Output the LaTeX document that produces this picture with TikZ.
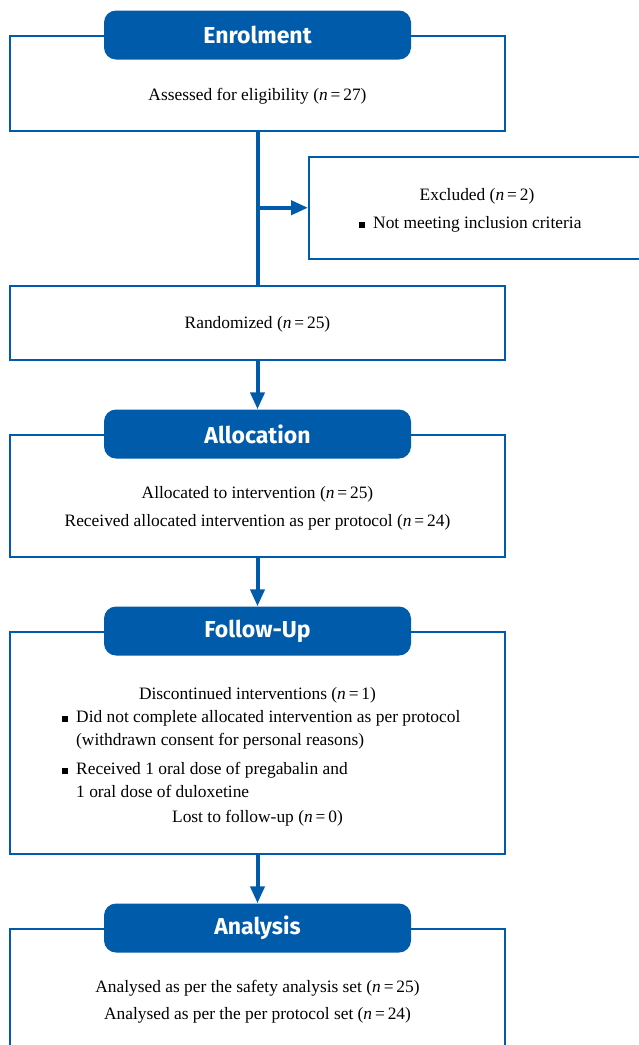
\documentclass[tikz,border=0pt]{standalone}
\usepackage{fontspec}
\setmainfont{Liberation Serif}
\newfontfamily\headfont{Fira Sans}
\usepackage{tikz}
\usetikzlibrary{arrows.meta}
\definecolor{consortblue}{HTML}{005BAA}
\newcommand{\sqbullet}{\llap{\rule[1pt]{6pt}{6pt}\hspace{8pt}}}
\newcommand{\nval}[1]{(\textit{n}\,=\,#1)}
\tikzset{
    consort/.style={
            x=1pt, y=-1pt,
            font=\fontsize{17.4}{23}\selectfont,
            stage/.style={draw=consortblue, line width=1.5pt, minimum width=495pt, anchor=north},
            header/.style={fill=consortblue, rounded corners=12pt, minimum width=307pt, minimum height=49pt,
                    text=white, font=\headfont\bfseries\fontsize{23}{23}\selectfont},
            bullets/.style={anchor=west, align=left, inner xsep=0pt},
            arrow/.style={-{Triangle[length=17pt,width=14pt]}, consortblue, line width=4pt},
            stem/.style={consortblue, line width=4pt}
        }
    }

\begin{document}
\begin{tikzpicture}[consort]
        \useasboundingbox (0,0) rectangle (638,1045);

        \node[stage, minimum height=95pt] (Enrol) at (257.5,35) {};
        \node[stage, minimum height=102pt, minimum width=340pt, anchor=north west] (Excl) at (308,156) {};
        \node[stage, minimum height=74pt] (Rand) at (257.5,285) {};
        \node[stage, minimum height=122pt] (Alloc) at (257.5,434) {};
        \node[stage, minimum height=222pt] (Follow) at (257.5,631) {};
        \node[stage, minimum height=140pt] (Anal) at (257.5,928) {};

        \node[header] (EnrolH) at (Enrol.north) {Enrolment};
        \node[header] (AllocH) at (Alloc.north) {Allocation};
        \node[header] (FollowH) at (Follow.north) {Follow-Up};
        \node[header] (AnalH) at (Anal.north) {Analysis};

        \node (assess) at (257.5,96.5) {Assessed for eligibility \nval{27}};
        \node (excl1) at (477,196.5) {Excluded \nval{2}};
        \node[bullets] (excl2) at (373,224.5) {\sqbullet Not meeting inclusion criteria};
        \node (rand1) at (257.5,324.5) {Randomized \nval{25}};
        \node (alloc1) at (257.5,494.5) {Allocated to intervention \nval{25}};
        \node (alloc2) at (257.5,522.5) {Received allocated intervention as per protocol \nval{24}};
        \node (disc) at (257.5,695.5) {Discontinued interventions \nval{1}};
        \node[bullets] (discA) at (76,730) {\sqbullet Did not complete allocated intervention as per protocol\\(withdrawn consent for personal reasons)};
        \node[bullets] (discB) at (76,780) {\sqbullet Received 1 oral dose of pregabalin and\\1 oral dose of duloxetine};
        \node (lost) at (257.5,818.5) {Lost to follow-up \nval{0}};
        \node (anal1) at (257.5,988.5) {Analysed as per the safety analysis set \nval{25}};
        \node (anal2) at (257.5,1015.5) {Analysed as per the per protocol set \nval{24}};

        \coordinate (split) at (Enrol.south |- Excl.west);
        \draw[stem] (Enrol.south) -- (Rand.north);
        \draw[arrow] (split) -- (Excl.west);
        \draw[arrow] (Rand.south) -- (AllocH.north);
        \draw[arrow] (Alloc.south) -- (FollowH.north);
        \draw[arrow] (Follow.south) -- (AnalH.north);
    \end{tikzpicture}
\end{document}
